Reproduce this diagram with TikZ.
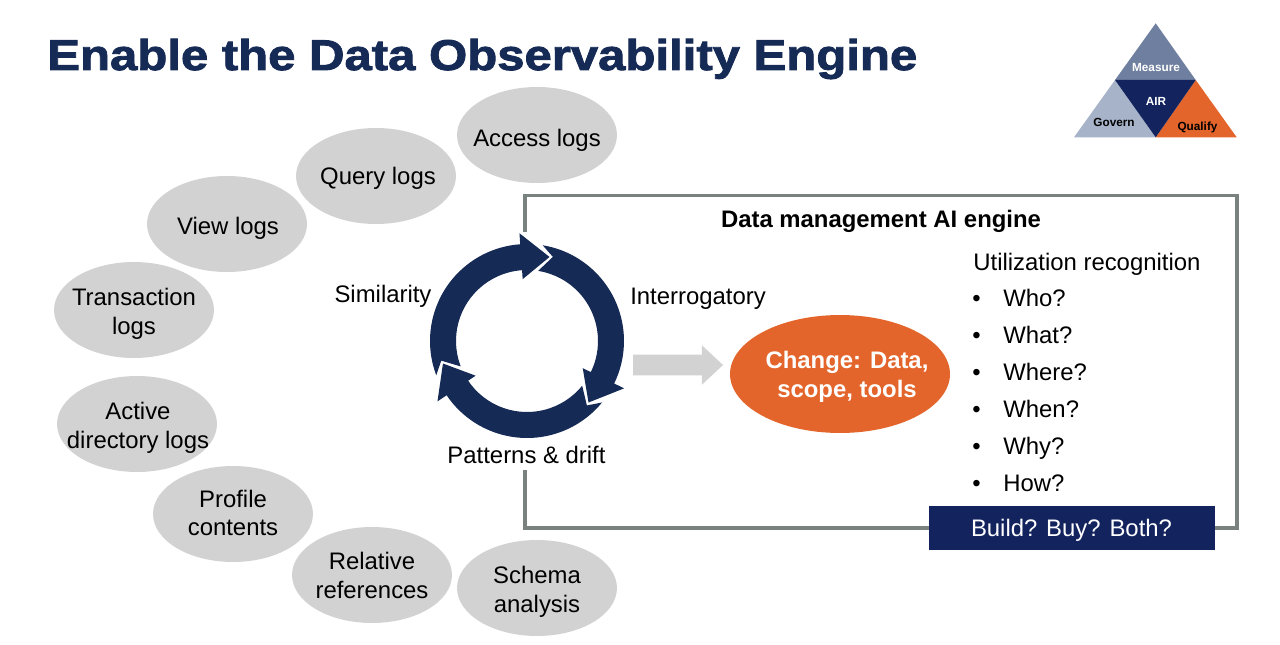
\documentclass[tikz,border=0pt]{standalone}
\usepackage{fontspec}
\setmainfont{Liberation Sans}
\newfontfamily\titlefont[FakeStretch=1.14,FakeBold=2]{Liberation Sans Bold}
\usepackage{xcolor}
\usetikzlibrary{shapes.geometric, shapes.arrows}

\definecolor{navy}{HTML}{12235E}
\definecolor{ringblue}{HTML}{152A55}
\definecolor{logsgray}{HTML}{D2D2D2}
\definecolor{boxgray}{HTML}{7A8280}
\definecolor{changeorange}{HTML}{E4652B}
\definecolor{measureblue}{HTML}{6F7FA0}
\definecolor{governblue}{HTML}{A7B3C9}

\tikzset{
  logs/.style={ellipse, fill=logsgray, minimum width=3.2cm, minimum height=1.92cm, inner sep=0pt},
  logtext/.style={align=center, inner sep=0pt, font=\fontsize{13.6}{16.4}\selectfont},
  label/.style={font=\fontsize{13.6}{16.4}\selectfont, inner sep=0pt},
  tri/.style={font=\fontsize{6.7}{7}\selectfont\bfseries, inner sep=0pt}
}

\begin{document}
\begin{tikzpicture}[x=0.02cm,y=-0.02cm]
    \useasboundingbox (0,0) rectangle (1280,645);

    \node[anchor=base west, inner sep=0pt, text=ringblue, font=\titlefont\fontsize{24.5}{30}\selectfont] (title) at (47,70) {Enable the Data Observability Engine};

    % triangle
    \fill[measureblue] (1155.7,23.3) -- (1195.7,80) -- (1115,80) -- cycle;
    \fill[governblue] (1115,80) -- (1155.7,137.3) -- (1074,137.3) -- cycle;
    \fill[changeorange] (1195.7,80) -- (1236.7,137.3) -- (1155.7,137.3) -- cycle;
    \fill[navy] (1115,80) -- (1195.7,80) -- (1155.7,137.3) -- cycle;
    \node[tri, text=white] (measure) at (1156,68) {Measure};
    \node[tri, text=white] (air) at (1156,101) {AIR};
    \node[tri] (govern) at (1114,122) {Govern};
    \node[tri] (qualify) at (1197.5,127) {Qualify};

    % log sources
    \foreach \n/\x/\y/\tx/\ty/\t in {access/537/135/537/140/Access logs, query/376/176/378/178/Query logs, view/227/224/228/228/View logs,
      transaction/134/310/134/314/Transaction\\logs, active/137/424/138/428/Active\\directory logs, profile/233/514/233/513/Profile\\contents,
      relative/372/575/372/575.5/Relative\\references, schema/537/588/537/592/Schema\\analysis} {
      \node[logs] (\n) at (\x,\y) {};
      \node[logtext] (\n text) at (\tx,\ty) {\t};
    }

    % engine box
    \draw[boxgray, line width=0.08cm] (525,232) -- (525,195.5) -- (1237,195.5) -- (1237,528) -- (525,528) -- (525,470);
    \node[font=\fontsize{13.6}{16.4}\selectfont\bfseries, inner sep=0pt] (engine) at (881,221.5) {Data management AI engine};

    % ring
    \begin{scope}[shift={(527,341)},x=0.02cm,y=0.02cm]
      \foreach \a in {0,-120,-240} {
        \fill[ringblue, rotate=\a] (200.7:97) arc[start angle=200.7, end angle=94, radius=1.94cm] -- (94:108) -- (75:87) -- (94:62) -- (94:71) arc[start angle=94, end angle=201, radius=1.42cm] -- (192.9:88) -- cycle;
      }
    \end{scope}

    \node[label] (similarity) at (383,296) {Similarity};
    \node[label] (interrogatory) at (698,299) {Interrogatory};
    \node[label] (patterns) at (526.5,455) {Patterns \& drift};

    \node[single arrow, fill=logsgray, minimum width=0.78cm, minimum height=1.8cm, single arrow head extend=0.19cm, single arrow tip angle=86, inner xsep=0pt, inner ysep=0.2cm] (flow) at (672.5,365) {};
    \node[ellipse, fill=changeorange, minimum width=4.4cm, minimum height=2.36cm, inner sep=0pt] (change) at (840,374) {};
    \node[text=white, inner sep=0pt, align=center, font=\fontsize{13.6}{16.6}\selectfont\bfseries] (change text) at (847,377) {Change: Data,\\scope, tools};

    % questions
    \node[label, anchor=base west] (util) at (973,270) {Utilization recognition};
    \foreach \q/\y in {Who/306.3, What/343.3, Where/380.3, When/417.3, Why/454.3, How/491.3} {
      \node[label, anchor=base west] (b\q) at (972,\y) {•};
      \node[label, anchor=base west] (q\q) at (1003,\y) {\q?};
    }

    \node[fill=navy, text=white, minimum width=5.72cm, minimum height=0.88cm, inner sep=0pt] (build) at (1072,528) {};
    \node[label, text=white] (build text) at (1071.5,530) {Build? Buy? Both?};
\end{tikzpicture}
\end{document}
